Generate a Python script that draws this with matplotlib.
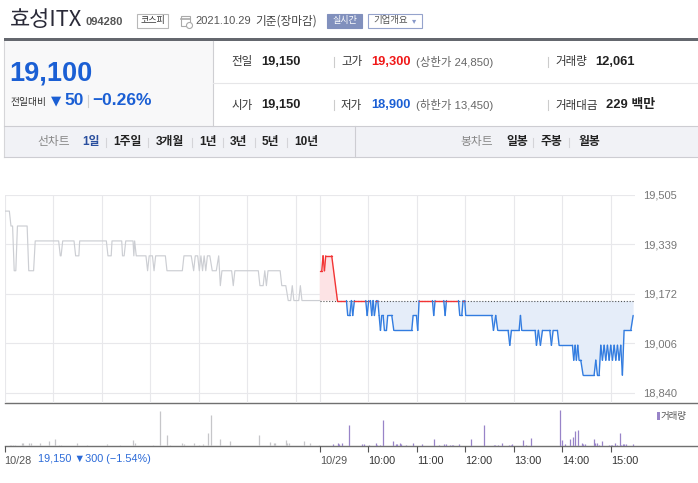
import matplotlib
matplotlib.use('Agg')
import matplotlib.pyplot as plt
import numpy as np
from matplotlib.patches import Rectangle, Polygon
from matplotlib.lines import Line2D

W, H = 698, 483
KR = ['Liberation Sans', 'Noto Sans CJK KR', 'DejaVu Sans']
plt.rcParams['font.family'] = KR

# ---------------- data ----------------
prev_close = 19150
session_len = 390  # minutes 9:00-15:30

# 10/28 (previous day) minute offsets from 9:00, price
day1_t = [0, 6, 8, 10, 12, 14, 16, 28, 30, 36, 38, 67, 69, 70, 72, 86, 88, 92, 93, 126, 128, 132, 133,
          145, 146, 148, 150, 159, 160, 161, 163, 175, 177, 179, 183, 185, 187, 199, 201, 220, 222,
          231, 234, 236, 239, 241, 243, 245, 247, 249, 251, 254, 257, 262, 265, 267, 269, 281, 283,
          285, 314, 316, 320, 322, 324, 326, 341, 343, 348, 351, 354, 356, 358, 364, 366, 368, 390]
day1_p = [19450, 19450, 19400, 19400, 19250, 19250, 19400, 19400, 19250, 19250, 19350, 19350, 19300,
          19300, 19350, 19350, 19300, 19300, 19350, 19350, 19300, 19300, 19350, 19350, 19300, 19300,
          19350, 19350, 19300, 19350, 19300, 19300, 19250, 19300, 19300, 19250, 19300, 19300, 19250,
          19250, 19300, 19300, 19250, 19300, 19300, 19250, 19300, 19250, 19300, 19250, 19300, 19300,
          19250, 19250, 19300, 19200, 19250, 19250, 19200, 19250, 19250, 19200, 19200, 19250, 19200,
          19250, 19250, 19200, 19200, 19150, 19150, 19200, 19150, 19150, 19200, 19150, 19150]

# 10/29 minute offsets from 9:00, price
day2_t = [0, 2.5, 4.1, 5.8, 7.4, 14.8, 21.9, 33.0, 34.6, 37.1, 39.2, 40.8, 42.9, 56.9, 58.6, 60.6,
          62.7, 64.3, 66.0, 67.6, 70.1, 71.8, 73.4, 75.1, 76.7, 78.4, 80.0, 82.5, 84.1, 89.1, 91.6,
          113.8, 115.5, 119.6, 121.2, 122.9, 139.4, 141.0, 142.7, 153.4, 155.1, 156.7, 171.6, 173.2,
          175.7, 177.3, 179.4, 180.6, 212.8, 214.9, 217.7, 220.2, 233.0, 235.1, 237.1, 246.6, 248.3,
          249.9, 266.4, 268.1, 270.5, 273.0, 275.5, 284.6, 286.6, 288.7, 294.0, 296.1, 312.6, 314.2,
          315.9, 317.5, 319.2, 320.8, 322.9, 325.8, 339.4, 341.5, 343.5, 345.6, 347.7, 349.7, 351.8,
          353.8, 355.9, 358.0, 360.0, 362.1, 364.2, 366.2, 368.3, 370.3, 372.4, 374.4, 376.5, 384.8,
          387.7]
day2_p = [19250, 19250, 19300, 19250, 19300, 19300, 19150, 19150, 19100, 19100, 19150, 19100, 19150,
          19150, 19100, 19150, 19150, 19100, 19150, 19100, 19150, 19150, 19100, 19050, 19100, 19100,
          19050, 19050, 19100, 19100, 19050, 19050, 19100, 19100, 19050, 19150, 19150, 19100, 19150,
          19150, 19100, 19150, 19150, 19100, 19100, 19150, 19150, 19100, 19100, 19050, 19100, 19050,
          19050, 19000, 19050, 19050, 19100, 19050, 19050, 19000, 19050, 19000, 19050, 19050, 19000,
          19050, 19050, 19000, 19000, 18950, 19000, 18950, 19000, 18950, 18950, 18900, 18900, 18950,
          18900, 18900, 19000, 18950, 19000, 18950, 19000, 18950, 19000, 18950, 19000, 18950, 19000,
          18950, 19000, 18900, 19050, 19050, 19100]

# volume (relative bar heights as read)
vol1_t = [7, 8, 10, 13, 22, 23, 30, 33, 44, 55, 62, 67, 70, 90, 102, 127, 143, 159, 161, 184, 192,
          201, 205, 220, 222, 234, 241, 246, 252, 256, 267, 279, 315, 328, 333, 335, 348, 350, 352,
          371, 378, 389]
vol1_v = [40, 40, 40, 40, 80, 100, 90, 90, 90, 150, 210, 40, 40, 90, 30, 60, 30, 180, 100, 30, 1050,
          340, 40, 100, 70, 100, 40, 50, 400, 930, 210, 160, 340, 120, 100, 90, 180, 100, 80, 150, 100,
          40]
vol2_t = [17, 22, 24, 27, 36, 52, 55, 61, 69, 71, 74, 78, 91, 94, 96, 99, 101, 107, 115, 127, 141,
          148, 154, 156, 161, 163, 165, 172, 187, 203, 215, 217, 221, 225, 234, 236, 238, 251, 255,
          261, 297, 300, 303, 310, 313, 316, 319, 324, 326, 328, 339, 340, 343, 345, 349, 358, 360,
          362, 365, 368, 371, 373, 375, 377, 379, 388]
vol2_v = [60, 80, 60, 80, 640, 60, 60, 30, 80, 40, 40, 780, 150, 60, 60, 80, 60, 30, 100, 60, 210, 30,
          60, 60, 30, 30, 30, 60, 210, 640, 30, 30, 30, 100, 30, 40, 60, 180, 30, 240, 1080, 180, 60,
          210, 270, 450, 490, 90, 70, 50, 210, 80, 90, 40, 150, 30, 30, 30, 90, 40, 400, 40, 60, 60,
          60, 60]

ytick_vals = [18840, 19006, 19172, 19339, 19505]
ytick_labels = ['18,840', '19,006', '19,172', '19,339', '19,505']
grid_minutes = [0, 60, 120, 180, 240, 300, 360, 390, 450, 510, 570, 630, 690, 750]
xtick_pos = [0, 390, 450, 510, 570, 630, 690, 750]
xtick_labels = ['10/28', '10/29', '10:00', '11:00', '12:00', '13:00', '14:00', '15:00']

# ---------------- figure ----------------
fig = plt.figure(figsize=(W / 100, H / 100), dpi=100)
bg = fig.add_axes([0, 0, 1, 1], zorder=0)
bg.set_xlim(0, W)
bg.set_ylim(H, 0)
bg.axis('off')


def frac(x0, y0, x1, y1):
    return [x0 / W, 1 - y1 / H, (x1 - x0) / W, (y1 - y0) / H]


def T(x, y, s, size, color='#333333', weight='normal', ha='left', va='center', fam=KR):
    bg.text(x, y, s, fontsize=size, color=color, fontweight=weight, ha=ha, va=va, family=fam)


def hline(x0, x1, y, color, lw=0.8, ls='-'):
    bg.add_line(Line2D([x0, x1], [y, y], color=color, lw=lw, ls=ls))


def vline(x, y0, y1, color, lw=0.8):
    bg.add_line(Line2D([x, x], [y0, y1], color=color, lw=lw))


BLUE = '#1b5fd4'
RED = '#f01818'

# ---- top header ----
T(9.5, 20, '효성ITX', 15.8, color='#2a2a38', fam=['Noto Sans CJK KR', 'DejaVu Sans'])
T(86, 22, '094280', 8, color='#555555', weight='bold')
bg.add_patch(Rectangle((137, 14), 31, 14, fc='white', ec='#b8b8b8', lw=0.8))
T(152.5, 21, '코스피', 6.5, color='#333333', ha='center', fam=['Noto Sans CJK KR'])
# calendar icon
bg.add_patch(Rectangle((180.5, 16), 9.5, 10, fc='white', ec='#aaaaaa', lw=0.8))
hline(180.5, 190, 18.5, '#aaaaaa', lw=1.2)
bg.add_patch(plt.Circle((189.5, 25.5), 3, fc='white', ec='#aaaaaa', lw=0.8))
T(195, 21.5, '2021.10.29', 8, color='#555555')
T(255, 21.5, '기준(장마감)', 8.4, color='#444444', fam=['Noto Sans CJK KR'])
bg.add_patch(Rectangle((327, 14), 35, 14, fc='#8190bd', ec='#8190bd', lw=0.8))
T(344.5, 21, '실시간', 6.5, color='white', ha='center', fam=['Noto Sans CJK KR'])
bg.add_patch(Rectangle((368, 14), 54, 14, fc='white', ec='#95a3cc', lw=0.8))
T(373, 21, '기업개요', 6.8, color='#555555', fam=['Noto Sans CJK KR'])
T(414.5, 21, '▾', 6, color='#8898c8', ha='center', fam=['DejaVu Sans'])

# dark rule
bg.add_patch(Rectangle((4, 37.7), W - 4, 3, fc='#64676e', ec='none'))

# ---- info panel ----
bg.add_patch(Rectangle((4, 40.7), 208.5, 85.5, fc='#f8f8f9', ec='none'))
vline(212.5, 40.7, 126, '#cfcfd3')
vline(4.3, 40.7, 157, '#d6d6d9')
hline(212.5, W, 83.3, '#e6e6e8')

T(9.5, 73.5, '19,100', 19.5, color=BLUE, weight='bold')
T(10.5, 101.5, '전일대비', 7, color='#333333', fam=['Noto Sans CJK KR'])
T(51, 100.5, '▼', 9.5, color=BLUE, fam=['DejaVu Sans'])
T(64, 100.5, '50', 12.5, color=BLUE, weight='bold')
vline(87.5, 95, 107, '#d0d0d0')
T(92.5, 100.5, '−0.26%', 12.5, color=BLUE, weight='bold')

rows = [62, 105]
left_labels = ['전일', '시가']
left_vals = ['19,150', '19,150']
mid_labels = ['고가', '저가']
mid_vals = ['19,300', '18,900']
mid_cols = [RED, BLUE]
mid_notes = ['(상한가 24,850)', '(하한가 13,450)']
right_labels = ['거래량', '거래대금']
right_vals = ['12,061', '229 백만']
right_x = [595, 606]
for i, y in enumerate(rows):
    T(231, y, left_labels[i], 8.3, color='#333333', fam=['Noto Sans CJK KR'])
    T(261, y, left_vals[i], 9.3, color='#222222', weight='bold')
    vline(334, y - 5, y + 5, '#cccccc')
    T(341, y, mid_labels[i], 8.3, color='#333333', fam=['Noto Sans CJK KR'])
    T(371, y, mid_vals[i], 9.3, color=mid_cols[i], weight='bold')
    T(416, y, mid_notes[i], 8.2, color='#666666')
    vline(548, y - 5, y + 5, '#cccccc')
    T(555, y, right_labels[i], 8.3, color='#333333', fam=['Noto Sans CJK KR'])
    T(right_x[i], y, right_vals[i], 9.3, color='#222222', weight='bold')

# ---- tab row ----
bg.add_patch(Rectangle((4, 126), W - 4, 31, fc='#f1f2f6', ec='none'))
hline(4, W, 126, '#cdcdd2')
hline(4, W, 157, '#cdcdd2')
vline(354.5, 126, 157, '#cdcdd2')
T(37, 142, '선차트', 8.5, color='#888888', fam=['Noto Sans CJK KR'])
tabs = ['1일', '1주일', '3개월', '1년', '3년', '5년', '10년']
tab_x = [82, 113, 156, 199, 230, 262, 294]
sep_x = [106, 148, 192, 223, 255, 287]
for j, (s, x) in enumerate(zip(tabs, tab_x)):
    T(x, 142, s, 8.5, color='#2a4f9e' if j == 0 else '#222222', weight='bold')
for x in sep_x:
    vline(x, 138, 147, '#d4d4d8')
T(460, 142, '봉차트', 8.5, color='#888888', fam=['Noto Sans CJK KR'])
for s, x in zip(['일봉', '주봉', '월봉'], [506, 541, 578]):
    T(x, 142, s, 8.5, color='#222222', weight='bold')
for x in [533, 569]:
    vline(x, 138, 147, '#d4d4d8')

# ---------------- price chart ----------------
px_top, px_bot_grid, px_bot = 194.7, 393.0, 403.0
per_px = (ytick_vals[-1] - ytick_vals[0]) / (px_bot_grid - px_top)
ax = fig.add_axes(frac(4.5, px_top, 635.0, px_bot), zorder=2)
ax.set_facecolor('none')
ax.set_xlim(0, 2 * session_len)
ax.set_ylim(ytick_vals[0] - (px_bot - px_bot_grid) * per_px, ytick_vals[-1])
for sp in ax.spines.values():
    sp.set_visible(False)
ax.set_xticks(grid_minutes)
ax.tick_params(axis='x', length=0, labelbottom=False)
ax.yaxis.tick_right()
ax.set_yticks(ytick_vals, ytick_labels)
ax.tick_params(axis='y', length=0, pad=6, labelsize=8, labelcolor='#777777')
ax.grid(True, color='#e8e8eb', lw=0.8, zorder=0)
ax.set_axisbelow(True)

t1 = np.array(day1_t, dtype=float)
p1 = np.array(day1_p, dtype=float)
ax.plot(t1, p1, color='#ccced3', lw=0.85, zorder=3)

t2 = np.array(day2_t, dtype=float) + session_len
p2 = np.array(day2_p, dtype=float)
ax.fill_between(t2, p2, prev_close, where=p2 >= prev_close, interpolate=True,
                color='#fde3e5', lw=0, zorder=2)
ax.fill_between(t2, p2, prev_close, where=p2 <= prev_close, interpolate=True,
                color='#e5edf9', lw=0, zorder=2)
ax.plot([t2[0], 2 * session_len], [prev_close, prev_close], color='#555555', lw=0.8,
        ls=(0, (1, 1.6)), zorder=4)
for i in range(len(t2) - 1):
    up = min(p2[i], p2[i + 1]) >= prev_close
    ax.plot(t2[i:i + 2], p2[i:i + 2], color='#f23434' if up else '#327ce0', lw=1.0,
            zorder=5, solid_capstyle='round')

# ---------------- volume chart ----------------
vax = fig.add_axes(frac(4.5, 403.0, 635.0, 446.0), zorder=2)
vax.set_facecolor('none')
vax.set_xlim(0, 2 * session_len)
vax.set_ylim(0, 1290)
for sp in vax.spines.values():
    sp.set_visible(False)
vax.set_yticks([])
vax.vlines(vol1_t, 0, vol1_v, color='#c6c6c9', lw=0.9)
vax.vlines(np.array(vol2_t) + session_len, 0, vol2_v, color='#9884c8', lw=0.9)
vax.set_xticks(xtick_pos, xtick_labels)
vax.tick_params(axis='x', direction='out', length=4.5, width=0.8, color='#555555',
                labelsize=7.8, pad=2.5)
for k, lab in enumerate(vax.get_xticklabels()):
    lab.set_ha('left')
    lab.set_color('#555555' if k < 2 else '#333333')

hline(4.5, W, 403.3, '#707070', lw=1.0)
hline(4.5, W, 446.3, '#707070', lw=1.0)
T(38, 459.5, '19,150 ▼300 (−1.54%)', 7.8, color='#2b6ad8')
bg.add_patch(Rectangle((657, 412), 2.5, 8, fc='#9884c8', ec='none'))
T(661, 416.5, '거래량', 6.8, color='#555555', fam=['Noto Sans CJK KR'])

fig.savefig('out.png', dpi=100)
